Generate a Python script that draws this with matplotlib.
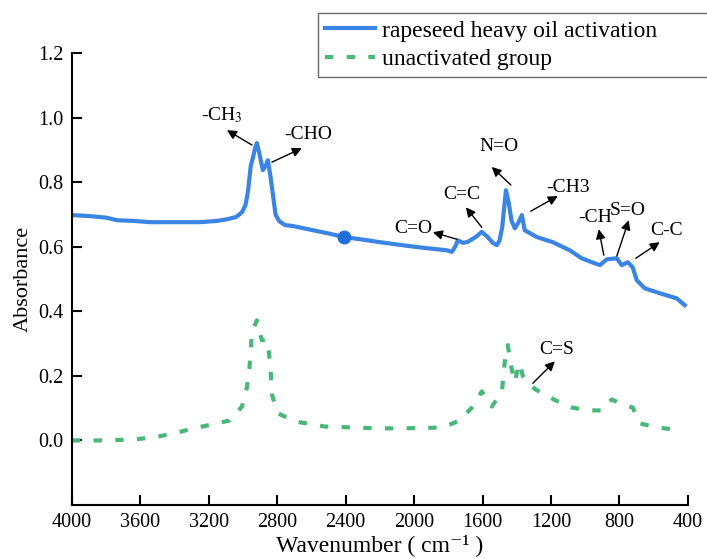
import numpy as np
import matplotlib.pyplot as plt

plt.rcParams['font.family'] = ['Liberation Serif', 'DejaVu Serif']
plt.rcParams['mathtext.fontset'] = 'stix'

# rapeseed heavy oil activation (wavenumber, absorbance)
act_wn = [4000, 3900, 3800, 3737, 3640, 3544, 3400, 3252, 3150, 3094, 3040, 3006,
          2985, 2970, 2955, 2940, 2930, 2919, 2905, 2884, 2868, 2855, 2840, 2825, 2810,
          2790, 2755, 2708, 2600, 2500, 2410, 2300, 2200, 2100, 2000, 1900, 1809,
          1779, 1760, 1744, 1715, 1686, 1640, 1604, 1570, 1540, 1516, 1500, 1485,
          1463, 1448, 1430, 1411, 1390, 1370, 1353, 1283, 1189, 1090, 1020, 961,
          914, 873, 815, 786, 751, 722, 698, 651, 564, 465, 418]
act_ab = [0.698, 0.695, 0.690, 0.682, 0.680, 0.676, 0.676, 0.676, 0.680, 0.685, 0.692, 0.707,
          0.730, 0.775, 0.850, 0.880, 0.905, 0.921, 0.890, 0.837, 0.850, 0.868, 0.820, 0.760, 0.700,
          0.680, 0.667, 0.664, 0.652, 0.641, 0.630, 0.622, 0.614, 0.607, 0.600, 0.594, 0.589,
          0.584, 0.600, 0.620, 0.612, 0.615, 0.630, 0.646, 0.630, 0.612, 0.605, 0.620, 0.660,
          0.775, 0.740, 0.680, 0.657, 0.675, 0.698, 0.651, 0.630, 0.614, 0.589, 0.564, 0.552,
          0.543, 0.561, 0.564, 0.543, 0.552, 0.536, 0.496, 0.471, 0.456, 0.440, 0.419]

# unactivated group
un_wn = [4000, 3800, 3700, 3600, 3500, 3400, 3293, 3176, 3077, 3006, 2977, 2962,
         2948, 2919, 2890, 2860, 2848, 2838, 2830, 2796, 2697, 2522, 2350, 2200,
         2000, 1832, 1733, 1662, 1604, 1546, 1487, 1476, 1464, 1452, 1434, 1411,
         1395, 1382, 1365, 1330, 1290, 1177, 1078, 985, 903, 844, 786, 722, 681,
         581, 476, 450]
un_ab = [0.000, 0.000, 0.002, 0.005, 0.012, 0.022, 0.037, 0.050, 0.062, 0.105, 0.165, 0.227,
         0.335, 0.372, 0.310, 0.313, 0.270, 0.208, 0.140, 0.084, 0.059, 0.043, 0.040, 0.037,
         0.038, 0.040, 0.062, 0.102, 0.152, 0.105, 0.149, 0.211, 0.273, 0.295, 0.233, 0.180,
         0.220, 0.239, 0.200, 0.175, 0.158, 0.125, 0.102, 0.093, 0.093, 0.127, 0.112, 0.102,
         0.053, 0.040, 0.034, 0.031]

marker_wn, marker_ab = 2410, 0.630

# label, text position (wn, ab), arrow tip (wn, ab), arrow tail (wn, ab)
notes = [
    ("-CH$_3$", (3123, 1.008), (3094, 0.961), (2948, 0.915)),
    ("-CHO",    (2621, 0.949), (2656, 0.905), (2831, 0.862)),
    ("C=O",     (2007, 0.657), (1890, 0.645), (1750, 0.623)),
    ("C=C",     (1721, 0.763), (1697, 0.722), (1604, 0.660)),
    ("N=O",     (1505, 0.909), (1546, 0.847), (1434, 0.791)),
    ("-CH3",    (1101, 0.784), (1160, 0.757), (1318, 0.710)),
    ("-CH",     (944, 0.691), (920, 0.654), (891, 0.574)),
    ("S=O",     (751, 0.713), (745, 0.682), (815, 0.571)),
    ("C-C",     (523, 0.651), (564, 0.614), (704, 0.564)),
    ("C=S",     (1166, 0.282), (1177, 0.245), (1306, 0.177)),
]

fig = plt.figure(figsize=(7.07, 5.59), dpi=100)
ax = fig.add_axes([0.1018, 0.0966, 0.871, 0.8086])

ax.plot(act_wn, act_ab, color='#3a84e4', lw=3.0,
        label='rapeseed heavy oil activation', solid_joinstyle='round')
ax.plot(un_wn, un_ab, color='#48b878', lw=3.0, linestyle=(0, (2.0, 3.2)),
        label='unactivated group')
ax.plot([marker_wn], [marker_ab], 'o', color='#1f6fdc', ms=9)

for txt, tpos, tip, tail in notes:
    ax.text(tpos[0], tpos[1], txt, fontsize=14, ha='center', va='center')
    ax.annotate('', xy=tip, xytext=tail,
                arrowprops=dict(arrowstyle='-|>', color='black', lw=1.0,
                                mutation_scale=14, shrinkA=0, shrinkB=0))

ax.set_xlim(4000, 400)
ax.set_ylim(-0.2, 1.2)
ax.set_xticks([4000, 3600, 3200, 2800, 2400, 2000, 1600, 1200, 800, 400])
ax.set_yticks([0.0, 0.2, 0.4, 0.6, 0.8, 1.0, 1.2])
ax.set_yticklabels(['0.0', '0.2', '0.4', '0.6', '0.8', '1.0', '1.2'])
ax.tick_params(direction='in', length=7, width=1.5, labelsize=14.5, pad=6)
for s in ['top', 'right']:
    ax.spines[s].set_visible(False)
for s in ['left', 'bottom']:
    ax.spines[s].set_linewidth(1.5)

ax.set_xlabel('Wavenumber ( cm\u207b\u00b9 )', fontsize=17, labelpad=1)
ax.set_ylabel('Absorbance', fontsize=16, labelpad=4)

leg = fig.legend(loc='upper left', bbox_to_anchor=(318 / 707, 1 - 76 / 559, 420 / 707, 63 / 559),
                 mode='expand', fontsize=17, frameon=True, fancybox=False, borderpad=0.3,
                 handlelength=2.1, handletextpad=0.3, labelspacing=0.3,
                 borderaxespad=0)
leg.get_frame().set_edgecolor('#444444')
leg.get_frame().set_linewidth(1.0)

fig.savefig('out.png', dpi=100)
